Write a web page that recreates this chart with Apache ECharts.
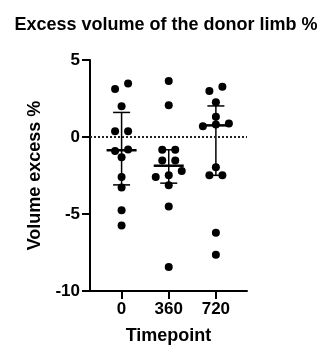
<!DOCTYPE html>
<html>
<head>
<meta charset="utf-8">
<script src="https://cdn.jsdelivr.net/npm/echarts@6/dist/echarts.min.js"></script>
<style>html,body{margin:0;padding:0;background:#fff}#c{width:332px;height:350px}</style>
</head>
<body>
<div id="c"></div>
<script>
const categories = ['0', '360', '720'];
const values0 = [3.47, 3.11, 2.0, 0.38, 0.38, -0.81, -0.91, -1.32, -2.6, -3.28, -4.75, -5.74];
const values360 = [3.64, 2.06, -0.83, -0.83, -1.53, -1.53, -2.2, -2.49, -2.6, -3.13, -4.51, -8.44];
const values720 = [3.27, 2.98, 2.25, 1.32, 0.87, 0.81, 0.70, -1.96, -2.49, -2.49, -6.21, -7.64];
const yMin = -10, yMax = 5, yInterval = 5;

const groups = [values0, values360, values720];

function quantile(sorted, p) {
  const n = sorted.length;
  const pos = p * (n + 1);
  const lo = Math.floor(pos);
  const frac = pos - lo;
  if (lo < 1) return sorted[0];
  if (lo >= n) return sorted[n - 1];
  return sorted[lo - 1] + frac * (sorted[lo] - sorted[lo - 1]);
}

// simple row-based swarm layout computed from the values
function swarm(vals, gi) {
  const desc = vals.slice().sort((a, b) => b - a);
  const rows = [];
  let cur = null;
  desc.forEach(v => {
    if (cur && cur.start - v < 0.45) cur.items.push(v);
    else { cur = { start: v, items: [v] }; rows.push(cur); }
  });
  const out = [];
  const step = 13;
  rows.forEach(r => {
    const items = r.items.slice().sort((a, b) => a - b);
    const n = items.length;
    items.forEach((v, i) => out.push([gi, v, (i - (n - 1) / 2) * step]));
  });
  return out;
}

const dotData = [];
groups.forEach((g, i) => swarm(g, i).forEach(d => dotData.push(d)));

const barData = groups.map((g, i) => {
  const s = g.slice().sort((a, b) => a - b);
  return [i, quantile(s, 0.25), quantile(s, 0.5), quantile(s, 0.75)];
});

const chart = echarts.init(document.getElementById('c'), null, { renderer: 'canvas' });
const font = 'Liberation Sans, Arial, sans-serif';
chart.setOption({
  animation: false,
  backgroundColor: '#fff',
  title: {
    text: 'Excess volume of the donor limb %',
    left: 'center',
    top: 11,
    textStyle: { fontFamily: font, fontWeight: 'bold', fontSize: 18, color: '#000' }
  },
  grid: { left: 90, right: 85, top: 60, bottom: 55 },
  xAxis: {
    type: 'value',
    min: -0.67,
    max: 2.66,
    name: 'Timepoint',
    nameLocation: 'middle',
    nameGap: 36,
    nameTextStyle: { fontFamily: font, fontWeight: 'bold', fontSize: 18, color: '#000' },
    axisLine: { show: true, onZero: false, lineStyle: { color: '#000', width: 2 } },
    axisTick: { show: true, customValues: [0, 1, 2], length: 8, lineStyle: { color: '#000', width: 2 } },
    axisLabel: {
      customValues: [0, 1, 2],
      formatter: v => categories[Math.round(v)],
      margin: 10,
      fontFamily: font, fontWeight: 'bold', fontSize: 17, color: '#000'
    },
    splitLine: { show: false }
  },
  yAxis: {
    type: 'value',
    min: yMin,
    max: yMax,
    interval: yInterval,
    name: 'Volume excess %',
    nameLocation: 'middle',
    nameGap: 46,
    nameTextStyle: { fontFamily: font, fontWeight: 'bold', fontSize: 18, color: '#000' },
    axisLine: { show: true, onZero: false, lineStyle: { color: '#000', width: 2 } },
    axisTick: { show: true, length: 8, lineStyle: { color: '#000', width: 2 } },
    axisLabel: { margin: 10, fontFamily: font, fontWeight: 'bold', fontSize: 17, color: '#000' },
    splitLine: { show: false }
  },
  series: [
    {
      type: 'custom',
      data: dotData,
      renderItem: (params, api) => {
        const p = api.coord([api.value(0), api.value(1)]);
        return { type: 'circle', shape: { cx: p[0] + api.value(2), cy: p[1], r: 4 }, style: { fill: '#000' } };
      },
      markLine: {
        silent: true,
        symbol: 'none',
        label: { show: false },
        lineStyle: { type: 'dotted', color: '#222', width: 2 },
        data: [{ yAxis: 0 }]
      },
      z: 2
    },
    {
      type: 'custom',
      data: barData,
      renderItem: (params, api) => {
        const x = api.value(0);
        const lo = api.coord([x, api.value(1)]);
        const md = api.coord([x, api.value(2)]);
        const hi = api.coord([x, api.value(3)]);
        const st = { stroke: '#000', lineWidth: 1.5 };
        return {
          type: 'group',
          children: [
            { type: 'line', shape: { x1: lo[0], y1: lo[1], x2: hi[0], y2: hi[1] }, style: st },
            { type: 'line', shape: { x1: lo[0] - 8.5, y1: lo[1], x2: lo[0] + 8.5, y2: lo[1] }, style: st },
            { type: 'line', shape: { x1: hi[0] - 8.5, y1: hi[1], x2: hi[0] + 8.5, y2: hi[1] }, style: st },
            { type: 'line', shape: { x1: md[0] - 15, y1: md[1], x2: md[0] + 15, y2: md[1] }, style: { stroke: '#000', lineWidth: 2.5 } }
          ]
        };
      },
      z: 3
    }
  ]
});
</script>
</body>
</html>
